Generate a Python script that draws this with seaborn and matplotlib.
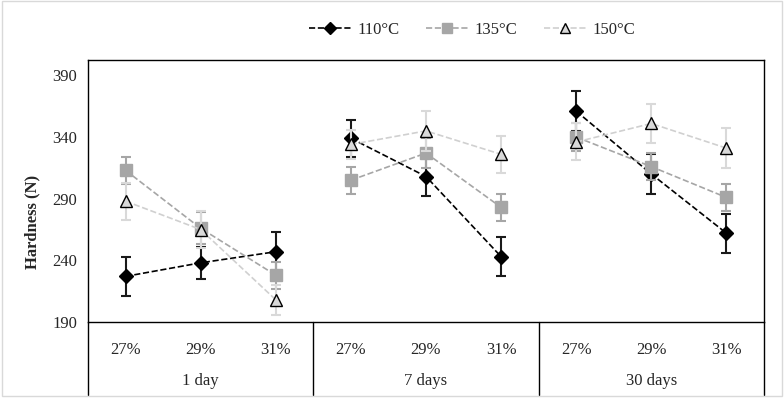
import matplotlib
matplotlib.use("Agg")
import matplotlib.pyplot as plt
import seaborn as sns
import pandas as pd
import numpy as np
from matplotlib.patches import Rectangle
from matplotlib.lines import Line2D

# ---- data ----
groups = ["1 day", "7 days", "30 days"]
moistures = ["27%", "29%", "31%"]
temps = ["110°C", "135°C", "150°C"]

vals_110 = [227, 238, 247, 339, 308, 243, 361, 310, 262]
err_110 = [16, 13, 16, 15, 16, 16, 16, 16, 16]
vals_135 = [313, 266, 228, 305, 327, 283, 340, 316, 291]
err_135 = [11, 13, 11, 11, 12, 11, 11, 11, 11]
vals_150 = [288, 265, 208, 334, 345, 326, 336, 351, 331]
err_150 = [15, 15, 12, 12, 16, 15, 15, 16, 16]

yticks = [190, 240, 290, 340, 390]

sns.set_theme(style="white")
plt.rcParams['font.family'] = ['Liberation Serif', 'DejaVu Serif']

rows = []
for t, v, e in zip(temps, [vals_110, vals_135, vals_150], [err_110, err_135, err_150]):
    for i in range(9):
        rows.append(dict(temp=t, pos=i, group=groups[i // 3], moist=moistures[i % 3],
                         value=v[i], err=e[i]))
df = pd.DataFrame(rows)

styles = {
    "110°C": dict(line="#000000", mfc="#000000", mec="#000000", ecol="#1a1a1a", marker="D", ms=7.5, z=3),
    "135°C": dict(line="#A6A6A6", mfc="#A6A6A6", mec="#A6A6A6", ecol="#A6A6A6", marker="s", ms=8.5, z=4),
    "150°C": dict(line="#D0D0D0", mfc="#D9D9D9", mec="#000000", ecol="#D9D9D9", marker="^", ms=9, z=5),
}

fig = plt.figure(figsize=(7.84, 4.01), dpi=100)
ax = fig.add_axes([88 / 784, 1 - 322 / 401, (764 - 88) / 784, (322 - 60) / 401])

for t in temps:
    st = styles[t]
    sub = df[df.temp == t]
    ax.errorbar(sub.pos, sub.value, yerr=sub.err, fmt="none", ecolor=st["ecol"],
                elinewidth=1.5, capsize=3.5, capthick=1.5, zorder=st["z"] - 0.5)
    for g in groups:
        s = sub[sub.group == g]
        sns.lineplot(data=s, x="pos", y="value", ax=ax, color=st["line"], linestyle="--",
                     linewidth=1.2, marker=st["marker"], markersize=st["ms"],
                     markerfacecolor=st["mfc"], markeredgecolor=st["mec"], markeredgewidth=1,
                     estimator=None, zorder=st["z"], legend=False)

ax.set_xlim(-0.5, 8.5)
ax.set_ylim(190, 402.5)
ax.set_yticks(yticks)
ax.set_yticklabels([str(y) for y in yticks], fontsize=12)
ax.tick_params(axis="y", length=0, pad=8)
ax.set_xticks([])
ax.set_xlabel("")
ax.set_ylabel("")
for sp in ax.spines.values():
    sp.set_color("#000000")
    sp.set_linewidth(1)

fig.text(32 / 784, 1 - 222 / 401, "Hardness (N)", rotation=90, ha="center", va="center",
         fontsize=12, fontweight="bold")

# category axis below
trans = ax.get_xaxis_transform()
for i in range(9):
    ax.text(i, -0.107, moistures[i % 3], transform=trans, ha="center", va="center", fontsize=12)
for gi, g in enumerate(groups):
    ax.text(gi * 3 + 1, -0.225, g, transform=trans, ha="center", va="center", fontsize=12)
for xb in [-0.5, 2.5, 5.5, 8.5]:
    ax.plot([xb, xb], [0, -0.279], transform=trans, color="#000000", lw=1, clip_on=False)

# legend
handles = [Line2D([0], [0], color=styles[t]["line"], linestyle="--", lw=1.2,
                  marker=styles[t]["marker"], markersize=styles[t]["ms"] - 1.5,
                  markerfacecolor=styles[t]["mfc"], markeredgecolor=styles[t]["mec"])
           for t in temps]
fig.legend(handles, temps, loc="center", bbox_to_anchor=(472 / 784, 1 - 30 / 401), ncol=3,
           frameon=False, fontsize=12, handlelength=2.5, columnspacing=1.6, handletextpad=0.4)

fig.patches.append(Rectangle((0.002, 0.012), 0.996, 0.985, transform=fig.transFigure,
                             fill=False, edgecolor="#D9D9D9", lw=1))

fig.savefig("out.png", dpi=100)
